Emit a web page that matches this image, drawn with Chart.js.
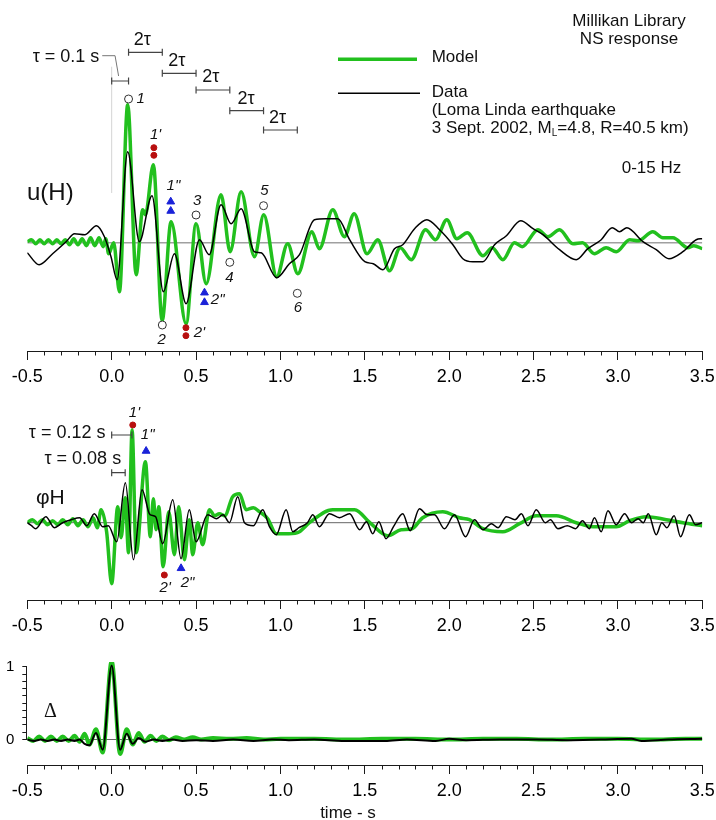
<!DOCTYPE html>
<html>
<head>
<meta charset="utf-8">
<script src="https://cdn.jsdelivr.net/npm/chart.js@4/dist/chart.umd.min.js"></script>
<style>
  body { margin: 0; background: #fff; }
  canvas { position: absolute; left: 0; }
</style>
</head>
<body>
<canvas id="uH" width="716" height="395" style="top:0px"></canvas>
<canvas id="phiH" width="716" height="250" style="top:395px"></canvas>
<canvas id="delta" width="716" height="175" style="top:645px"></canvas>
<script>
// time axis (s)
const xMajor = [-0.5, 0, 0.5, 1, 1.5, 2, 2.5, 3, 3.5];
const xMinorStep = 0.1;
const deltaTicks = [0, 0.1, 0.2, 0.3, 0.4, 0.5, 0.6, 0.7, 0.8, 0.9, 1];
const deltaLabels = { 0: '0', 1: '1' };

// u(H): model (green) and recorded data (black)
const uhModelT = [-0.5, -0.475, -0.45, -0.425, -0.4, -0.375, -0.35, -0.325, -0.3, -0.275, -0.25, -0.225, -0.2, -0.175, -0.15, -0.125, -0.1, -0.075, -0.05, -0.035, -0.018, 0.012, 0.046, 0.095, 0.145, 0.184, 0.2, 0.247, 0.299, 0.352, 0.441, 0.5, 0.56, 0.648, 0.702, 0.767, 0.846, 0.901, 0.978, 1.043, 1.103, 1.186, 1.231, 1.31, 1.379, 1.437, 1.513, 1.577, 1.646, 1.71, 1.775, 1.86, 1.919, 1.986, 2.045, 2.107, 2.2, 2.255, 2.318, 2.387, 2.433, 2.526, 2.585, 2.654, 2.733, 2.79, 2.861, 2.93, 2.99, 3.07, 3.12, 3.207, 3.266, 3.326, 3.414, 3.45, 3.5];
const uhModelV = [0.01, 0.03, -0.01, 0.03, -0.01, 0.03, -0.01, 0.03, -0.01, 0.03, -0.02, 0.04, -0.02, 0.04, -0.03, 0.05, -0.03, 0.05, -0.04, 0.04, -0.11, 0.0, -0.49, 1.38, -0.32, 0.33, 0.28, 0.78, -0.78, 0.21, -0.81, 0.19, -0.41, 0.48, -0.09, 0.51, -0.14, 0.28, -0.34, -0.01, -0.31, 0.11, -0.06, 0.33, 0.06, 0.29, -0.11, 0.03, -0.28, -0.05, -0.17, 0.13, 0.03, 0.23, 0.04, 0.10, -0.13, -0.05, -0.17, 0.0, -0.04, 0.13, 0.06, 0.13, -0.01, 0.0, -0.11, -0.05, -0.09, 0.03, 0.02, 0.11, 0.05, 0.05, -0.05, -0.03, -0.06];
const uhDataT = [-0.5, -0.43, -0.35, -0.27, -0.22, -0.16, -0.09, -0.043, -0.004, 0.032, 0.095, 0.164, 0.239, 0.306, 0.372, 0.441, 0.52, 0.578, 0.648, 0.708, 0.767, 0.846, 0.886, 0.978, 1.053, 1.113, 1.202, 1.271, 1.34, 1.41, 1.5, 1.55, 1.607, 1.676, 1.725, 1.795, 1.868, 1.943, 2.022, 2.081, 2.14, 2.2, 2.269, 2.339, 2.424, 2.497, 2.556, 2.654, 2.753, 2.822, 2.901, 2.966, 3.01, 3.053, 3.148, 3.227, 3.302, 3.385, 3.464, 3.5];
const uhDataV = [-0.10, -0.22, -0.11, 0.01, 0.09, 0.08, 0.17, 0.06, -0.14, -0.37, 0.91, 0.01, 0.47, -0.49, -0.11, -0.61, 0.03, -0.12, 0.38, 0.19, 0.34, -0.09, -0.10, -0.35, -0.21, -0.12, 0.23, 0.24, 0.24, 0.03, -0.19, -0.21, -0.27, -0.06, -0.02, 0.14, 0.23, 0.13, -0.02, -0.16, -0.19, -0.19, -0.02, 0.07, 0.22, 0.14, 0.08, -0.07, -0.17, -0.06, 0.03, 0.15, 0.11, 0.15, 0.01, -0.07, -0.16, -0.09, 0.03, 0.04];

// phi H
const phModelT = [-0.5, -0.47, -0.44, -0.41, -0.38, -0.35, -0.32, -0.29, -0.26, -0.23, -0.2, -0.17, -0.14, -0.11, -0.085, -0.063, -0.03, 0.0, 0.036, 0.056, 0.08, 0.1, 0.121, 0.145, 0.2, 0.229, 0.247, 0.263, 0.279, 0.305, 0.338, 0.372, 0.397, 0.431, 0.46, 0.48, 0.51, 0.539, 0.579, 0.61, 0.638, 0.67, 0.717, 0.757, 0.797, 0.84, 0.875, 0.925, 0.975, 1.05, 1.113, 1.172, 1.31, 1.44, 1.53, 1.636, 1.715, 1.78, 1.843, 1.962, 2.061, 2.12, 2.2, 2.318, 2.417, 2.516, 2.635, 2.753, 2.852, 2.99, 3.07, 3.168, 3.287, 3.385, 3.5];
const phModelV = [0.0, 0.03, -0.01, 0.03, -0.02, 0.02, -0.02, 0.03, -0.02, 0.04, -0.03, 0.03, -0.04, 0.05, -0.05, 0.13, -0.09, -0.61, 0.16, -0.15, 0.25, -0.30, 0.93, -0.30, 0.61, -0.14, 0.24, -0.07, 0.16, -0.44, 0.11, -0.32, 0.16, -0.37, 0.03, -0.32, 0.0, -0.22, 0.13, 0.07, 0.09, 0.07, 0.26, 0.29, 0.13, 0.15, 0.11, 0.04, -0.11, -0.11, -0.09, 0.0, 0.13, 0.13, 0.0, -0.13, -0.07, -0.06, 0.05, 0.11, 0.05, 0.03, -0.06, -0.09, -0.01, 0.07, 0.07, 0.0, -0.04, -0.04, 0.02, 0.06, 0.03, 0.0, -0.03];
const phDataT = [-0.5, -0.475, -0.45, -0.39, -0.34, -0.29, -0.24, -0.19, -0.148, -0.103, -0.053, -0.02, 0.03, 0.081, 0.129, 0.18, 0.227, 0.26, 0.302, 0.362, 0.411, 0.46, 0.5, 0.569, 0.62, 0.66, 0.698, 0.747, 0.787, 0.84, 0.895, 0.935, 0.975, 1.034, 1.073, 1.11, 1.16, 1.192, 1.231, 1.29, 1.35, 1.41, 1.47, 1.51, 1.547, 1.583, 1.626, 1.67, 1.725, 1.769, 1.824, 1.87, 1.913, 1.972, 2.031, 2.097, 2.15, 2.2, 2.25, 2.29, 2.339, 2.39, 2.428, 2.467, 2.516, 2.57, 2.6, 2.644, 2.7, 2.749, 2.79, 2.83, 2.861, 2.901, 2.941, 2.99, 3.04, 3.08, 3.12, 3.15, 3.18, 3.227, 3.26, 3.29, 3.333, 3.371, 3.423, 3.46, 3.5];
const phDataV = [0.0, -0.03, -0.06, 0.06, -0.05, 0.0, 0.03, 0.05, -0.03, 0.09, -0.04, -0.03, -0.19, 0.40, -0.37, 0.33, 0.08, 0.06, -0.21, 0.23, -0.36, 0.13, -0.19, 0.08, 0.04, 0.08, 0.0, 0.26, 0.0, -0.03, 0.13, -0.04, -0.12, 0.13, -0.09, -0.05, 0.0, 0.08, -0.04, 0.09, 0.05, 0.09, -0.07, 0.01, -0.11, 0.01, -0.16, -0.04, 0.09, -0.08, 0.14, 0.08, 0.08, -0.06, 0.08, -0.14, 0.03, -0.07, -0.01, -0.05, 0.06, 0.03, 0.09, -0.03, 0.13, 0.0, 0.03, -0.06, -0.03, -0.06, 0.02, -0.06, 0.05, -0.09, 0.12, -0.02, 0.09, 0.0, 0.04, 0.0, 0.09, -0.12, 0.0, -0.05, 0.07, -0.14, 0.08, -0.02, 0.0];

// Delta (impulse response, normalised to 1)
const dlModelT = [-0.5, -0.465, -0.43, -0.395, -0.36, -0.325, -0.29, -0.255, -0.22, -0.19, -0.16, -0.132, -0.093, -0.053, 0.0, 0.05, 0.089, 0.125, 0.16, 0.195, 0.23, 0.265, 0.3, 0.34, 0.38, 0.43, 0.48, 0.53, 0.6, 0.7, 0.8, 0.9, 1.0, 1.2, 1.4, 1.6, 1.8, 2.0, 2.2, 2.4, 2.6, 2.8, 3.0, 3.2, 3.4, 3.5];
const dlModelV = [0.02, -0.02, 0.04, -0.02, 0.04, -0.02, 0.04, -0.02, 0.05, -0.03, 0.08, -0.07, 0.14, -0.18, 1.08, -0.20, 0.14, -0.07, 0.09, -0.03, 0.05, -0.02, 0.04, -0.01, 0.03, 0.0, 0.03, 0.0, 0.02, 0.01, 0.02, 0.0, 0.01, 0.01, 0.0, 0.01, 0.01, 0.0, 0.01, 0.01, 0.0, 0.01, 0.01, 0.0, 0.01, 0.01];
const dlDataT = [-0.5, -0.46, -0.42, -0.38, -0.34, -0.3, -0.26, -0.22, -0.19, -0.16, -0.132, -0.093, -0.053, 0.0, 0.05, 0.089, 0.125, 0.16, 0.2, 0.25, 0.3, 0.36, 0.42, 0.5, 0.6, 0.72, 0.84, 0.95, 1.05, 1.2, 1.38, 1.52, 1.62, 1.75, 1.92, 2.0, 2.1, 2.3, 2.52, 2.7, 2.9, 3.08, 3.14, 3.3, 3.5];
const dlDataV = [0.0, -0.02, 0.0, -0.02, 0.0, -0.02, 0.0, -0.02, 0.0, -0.06, -0.08, 0.09, -0.14, 1.02, -0.14, 0.08, -0.06, 0.02, -0.03, 0.0, -0.02, 0.0, -0.02, -0.01, -0.02, 0.0, -0.02, 0.0, -0.01, 0.0, -0.02, -0.02, -0.02, 0.0, -0.02, 0.01, -0.01, 0.0, 0.0, -0.01, 0.0, 0.01, -0.02, 0.0, 0.01];

// peak markers [t, value]
const uhCircles = [[0.1, 1.437], [0.3, -0.823], [0.5, 0.277], [0.7, -0.196], [0.9, 0.37], [1.1, -0.506]];
const uhRedDots = [[0.25, 0.95], [0.25, 0.874], [0.44, -0.85], [0.44, -0.93]];
const uhBlueTris = [[0.35, 0.41], [0.35, 0.317], [0.55, -0.5], [0.55, -0.596]];
const uhPeakLabels = [['1', 0.172, 1.437], ["1'", 0.26, 1.077], ['1"', 0.366, 0.567], ['3', 0.506, 0.42], ['4', 0.698, -0.35], ['5', 0.905, 0.517], ['6', 1.103, -0.656], ['2', 0.296, -0.973], ["2'", 0.52, -0.906], ['2"', 0.628, -0.573]];
// interval brackets [t0, t1, level]
const uhBrackets = [[0, 0.1, 1.617], [0.1, 0.3, 1.904], [0.3, 0.5, 1.694], [0.5, 0.7, 1.527], [0.7, 0.9, 1.32], [0.9, 1.1, 1.127]];
const uhTwoTauLabels = [[0.182, 2.03], [0.386, 1.82], [0.588, 1.654], [0.797, 1.437], [0.983, 1.247]];

const phRedDots = [[0.125, 0.977], [0.312, -0.523]];
const phBlueTris = [[0.204, 0.717], [0.411, -0.456]];
const phPeakLabels = [["1'", 0.135, 1.097], ['1"', 0.213, 0.877], ["2'", 0.317, -0.656], ['2"', 0.45, -0.606]];
const phBrackets = [[0, 0.12, 0.877], [0, 0.08, 0.5]];

const AXIS = '#1a1a1a';
const GREEN = '#22c01e';
const SANS = '"Liberation Sans", Arial, sans-serif';

const xTicks = [];
for (let i = 0; i <= 40; i++) xTicks.push(Math.round((-0.5 + i * xMinorStep) * 10) / 10);
const isMajor = v => xMajor.some(m => Math.abs(m - v) < 1e-6);

function pts(ts, vs) { return ts.map((t, i) => ({ x: t, y: vs[i] })); }

function trace(ts, vs, color, width, order) {
  return { data: pts(ts, vs), borderColor: color, borderWidth: width, pointRadius: 0,
    cubicInterpolationMode: 'monotone', fill: false, order: order };
}
function segment(points, color, width, order) {
  return { data: points, borderColor: color, borderWidth: width, pointRadius: 0, tension: 0, fill: false, order: order };
}
function bracket(b) {
  return { data: [{ x: b[0], y: b[2] }, { x: b[1], y: b[2] }], borderColor: '#444', borderWidth: 1.2,
    pointStyle: 'line', pointRotation: 90, pointRadius: 3.5, pointBorderColor: '#444', pointBorderWidth: 1.2,
    tension: 0, fill: false, order: 0 };
}
function markers(list, style, fill, stroke, r) {
  return { data: list.map(m => ({ x: m[0], y: m[1] })), showLine: false, pointStyle: style, pointRadius: r,
    pointBackgroundColor: fill, pointBorderColor: stroke, pointBorderWidth: 1, order: 0 };
}

function xScale(height) {
  return {
    type: 'linear', min: -0.5, max: 3.5,
    afterBuildTicks: s => { s.ticks = xTicks.map(v => ({ value: v })); },
    afterFit: s => { s.height = height; s.paddingLeft = 0; s.paddingRight = 0; },
    grid: { drawOnChartArea: false, tickLength: 9, tickWidth: 1,
      tickColor: c => (c.tick && isMajor(c.tick.value)) ? AXIS : 'rgba(0,0,0,0)' },
    border: { display: true, color: AXIS, width: 1 },
    ticks: { autoSkip: false, maxRotation: 0, padding: 6, color: '#000',
      font: { family: SANS, size: 18 }, callback: v => isMajor(v) ? v.toFixed(1) : '' }
  };
}

// short minor ticks on the time axis
const minorTicks = {
  id: 'minorTicks',
  afterDraw(chart) {
    const s = chart.scales.x, ctx = chart.ctx, y0 = chart.chartArea.bottom;
    ctx.save();
    ctx.strokeStyle = AXIS; ctx.lineWidth = 1; ctx.beginPath();
    xTicks.filter(v => !isMajor(v)).forEach(v => {
      const x = Math.round(s.getPixelForValue(v)) + 0.5;
      ctx.moveTo(x, y0); ctx.lineTo(x, y0 + 4.5);
    });
    ctx.stroke(); ctx.restore();
  }
};

function txt(ctx, s, x, y, font, align, base) {
  ctx.font = font; ctx.textAlign = align || 'left'; ctx.textBaseline = base || 'middle';
  ctx.fillStyle = '#111'; ctx.fillText(s, x, y);
}
function dataTxt(ctx, chart, s, t, v, font, align) {
  txt(ctx, s, chart.scales.x.getPixelForValue(t), chart.scales.y.getPixelForValue(v), font, align);
}
function notes(draw) {
  return { id: 'notes', afterDraw(chart) { const ctx = chart.ctx; ctx.save(); draw(ctx, chart); ctx.restore(); } };
}

const baseOptions = (yMin, yMax, pad, xh) => ({
  responsive: false, animation: false, events: [],
  layout: { padding: pad },
  scales: { x: xScale(xh), y: { display: false, min: yMin, max: yMax } },
  plugins: { legend: { display: false }, tooltip: { enabled: false } }
});

const LABEL = 'italic 15px ' + SANS;
const TAU = '18px ' + SANS;

// top panel: u(H)
new Chart(document.getElementById('uH'), {
  type: 'line',
  data: { datasets: [
    markers(uhCircles, 'circle', '#fff', '#333', 4),
    markers(uhRedDots, 'circle', '#b80f0f', '#b80f0f', 3),
    markers(uhBlueTris, 'triangle', '#1a22d8', '#1a22d8', 4.5),
    ...uhBrackets.map(bracket),
    segment([{ x: -0.056, y: 1.87 }, { x: 0.02, y: 1.87 }, { x: 0.041, y: 1.667 }], '#777', 1, 1),
    segment([{ x: 0, y: 0.497 }, { x: 0, y: 1.76 }], '#d4d4d4', 1, 5),
    trace(uhDataT, uhDataV, '#000', 1.5, 2),
    trace(uhModelT, uhModelV, GREEN, 3.5, 3),
    segment([{ x: -0.5, y: 0 }, { x: 3.5, y: 0 }], '#a0a0a0', 1.6, 4)
  ] },
  options: baseOptions(-1.083, 2.327, { left: 27.3, right: 13.7, top: 10, bottom: 0 }, 44),
  plugins: [minorTicks, notes((ctx, chart) => {
    txt(ctx, 'Millikan Library', 629, 26, '17px ' + SANS, 'center', 'alphabetic');
    txt(ctx, 'NS response', 629, 44.3, '17px ' + SANS, 'center', 'alphabetic');
    ctx.lineCap = 'butt';
    ctx.strokeStyle = GREEN; ctx.lineWidth = 3.5;
    ctx.beginPath(); ctx.moveTo(338, 59.3); ctx.lineTo(417, 59.3); ctx.stroke();
    ctx.strokeStyle = '#000'; ctx.lineWidth = 1.5;
    ctx.beginPath(); ctx.moveTo(338, 93.3); ctx.lineTo(420, 93.3); ctx.stroke();
    const f = '17px ' + SANS;
    txt(ctx, 'Model', 431.7, 61.7, f, 'left', 'alphabetic');
    txt(ctx, 'Data', 431.7, 96.7, f, 'left', 'alphabetic');
    txt(ctx, '(Loma Linda earthquake', 431.7, 115, f, 'left', 'alphabetic');
    const head = '3 Sept. 2002, M';
    ctx.font = f;
    let x = 431.7 + ctx.measureText(head).width;
    txt(ctx, head, 431.7, 133.3, f, 'left', 'alphabetic');
    txt(ctx, 'L', x, 136.3, '10px ' + SANS, 'left', 'alphabetic');
    ctx.font = '10px ' + SANS;
    x += ctx.measureText('L').width;
    txt(ctx, '=4.8, R=40.5 km)', x, 133.3, f, 'left', 'alphabetic');
    txt(ctx, '0-15 Hz', 621.7, 173.3, f, 'left', 'alphabetic');
    txt(ctx, 'u(H)', 27, 193, '24px ' + SANS, 'left');
    dataTxt(ctx, chart, '\u03c4 = 0.1 s', -0.073, 1.86, TAU, 'right');
    uhTwoTauLabels.forEach(l => dataTxt(ctx, chart, '2\u03c4', l[0], l[1], TAU, 'center'));
    uhPeakLabels.forEach(l => dataTxt(ctx, chart, l[0], l[1], l[2], LABEL, 'center'));
  })]
});

// middle panel: phi H
new Chart(document.getElementById('phiH'), {
  type: 'line',
  data: { datasets: [
    markers(phRedDots, 'circle', '#b80f0f', '#b80f0f', 3),
    markers(phBlueTris, 'triangle', '#1a22d8', '#1a22d8', 4.5),
    ...phBrackets.map(bracket),
    trace(phDataT, phDataV, '#000', 1.5, 2),
    trace(phModelT, phModelV, GREEN, 3.5, 3),
    segment([{ x: -0.5, y: 0 }, { x: 3.5, y: 0 }], '#666', 1, 4)
  ] },
  options: baseOptions(-0.773, 1.177, { left: 27.3, right: 13.7, top: 10, bottom: 0 }, 45),
  plugins: [minorTicks, notes((ctx, chart) => {
    txt(ctx, '\u03c6H', 36, 498 - 395, '21px ' + SANS, 'left');
    dataTxt(ctx, chart, '\u03c4 = 0.12 s', -0.037, 0.897, TAU, 'right');
    dataTxt(ctx, chart, '\u03c4 = 0.08 s', 0.056, 0.637, TAU, 'right');
    phPeakLabels.forEach(l => dataTxt(ctx, chart, l[0], l[1], l[2], LABEL, 'center'));
  })]
});

// bottom panel: Delta
const deltaOpts = baseOptions(-0.351, 1.067, { left: 0, right: 13.7, top: 8, bottom: 0 }, 55);
deltaOpts.scales.y = {
  display: true, min: -0.351, max: 1.067,
  afterBuildTicks: s => { s.ticks = deltaTicks.map(v => ({ value: v })); },
  afterFit: s => { s.width = 27.3; },
  grid: { drawOnChartArea: false, tickLength: 5, tickColor: AXIS },
  border: { display: false },
  ticks: { autoSkip: false, padding: 8, color: '#000', font: { family: SANS, size: 15 },
    callback: v => deltaLabels[v] !== undefined ? deltaLabels[v] : '' }
};
new Chart(document.getElementById('delta'), {
  type: 'line',
  data: { datasets: [
    trace(dlDataT, dlDataV, '#000', 2, 2),
    trace(dlModelT, dlModelV, GREEN, 4, 3),
    segment([{ x: -0.5, y: 0 }, { x: 3.5, y: 0 }], '#666', 1, 4)
  ] },
  options: deltaOpts,
  plugins: [minorTicks, notes((ctx, chart) => {
    const y = chart.scales.y, x = Math.round(chart.chartArea.left) - 0.5;
    ctx.strokeStyle = AXIS; ctx.lineWidth = 1;
    ctx.beginPath(); ctx.moveTo(x, y.getPixelForValue(0)); ctx.lineTo(x, y.getPixelForValue(1)); ctx.stroke();
    txt(ctx, '\u0394', 44, 712 - 645, '20px "Liberation Serif", serif', 'left');
    txt(ctx, 'time - s', 348, 813 - 645, '17px ' + SANS, 'center');
  })]
});
</script>
</body>
</html>
